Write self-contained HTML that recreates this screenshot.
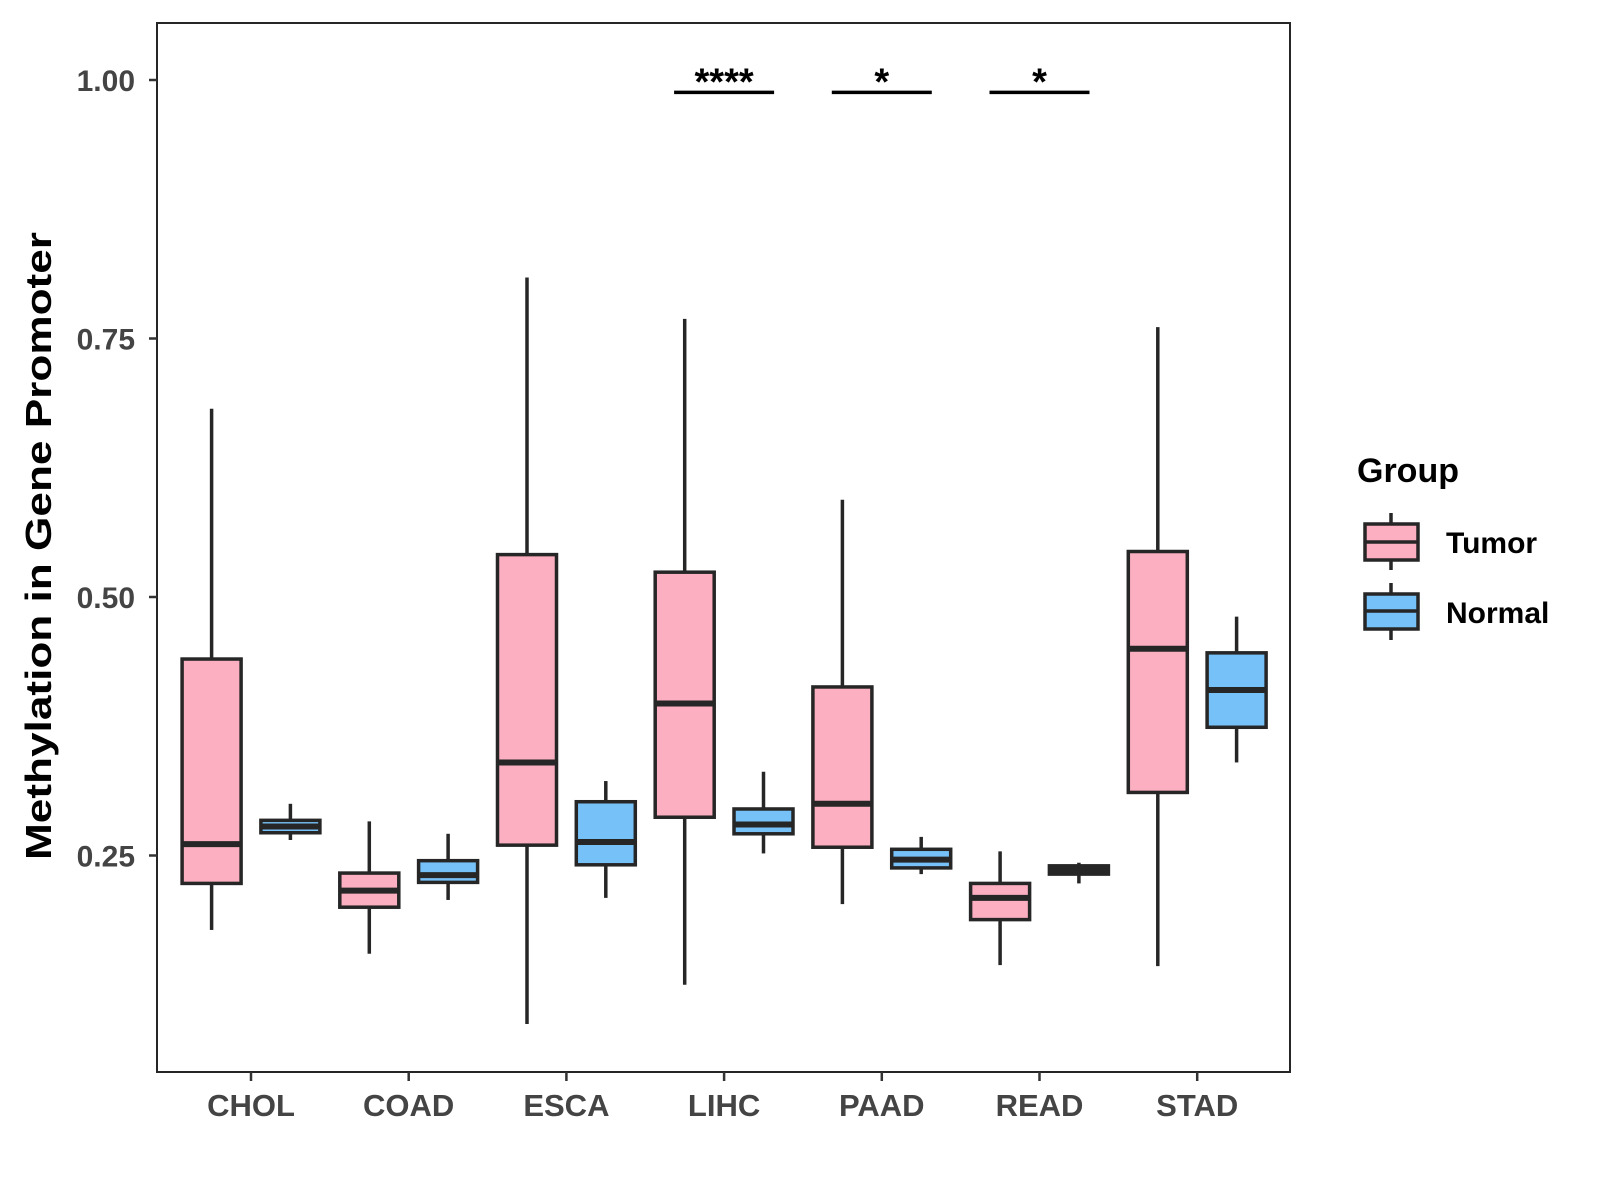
<!DOCTYPE html>
<html><head><meta charset="utf-8"><style>
html,body{margin:0;padding:0;background:#fff;}
svg{display:block;font-family:"Liberation Sans",Arial,sans-serif;}
</style></head><body>
<svg id="chart" width="1600" height="1200" viewBox="0 0 1600 1200" xmlns="http://www.w3.org/2000/svg">
<rect x="0" y="0" width="1600" height="1200" fill="#fff"/>
<g id="plot"></g>
<text x="0" y="0" transform="translate(51,546) rotate(-90)" text-anchor="middle" font-size="36" font-weight="bold" fill="#000" textLength="628" lengthAdjust="spacingAndGlyphs">Methylation in Gene Promoter</text>
<g>
<text x="1357" y="482" font-size="34" font-weight="bold" fill="#000">Group</text>
<g>
<line x1="1391" y1="513" x2="1391" y2="570" stroke="#262626" stroke-width="3.5"/>
<rect x="1365" y="524" width="53" height="36" fill="#FBAFC0" stroke="#262626" stroke-width="3.5"/>
<line x1="1365" y1="542" x2="1418" y2="542" stroke="#262626" stroke-width="3.5"/>
<text x="1446" y="553" font-size="30" font-weight="bold" fill="#000">Tumor</text>
</g>
<g>
<line x1="1391" y1="583" x2="1391" y2="640" stroke="#262626" stroke-width="3.5"/>
<rect x="1365" y="594" width="53" height="35" fill="#76C1F8" stroke="#262626" stroke-width="3.5"/>
<line x1="1365" y1="611" x2="1418" y2="611" stroke="#262626" stroke-width="3.5"/>
<text x="1446" y="623" font-size="30" font-weight="bold" fill="#000">Normal</text>
</g>
</g>
</svg>
<script>
const categories = ["CHOL","COAD","ESCA","LIHC","PAAD","READ","STAD"];
// [lowerWhisker, Q1, median, Q3, upperWhisker]
const tumorStats = [
  [0.178,0.223,0.261,0.440,0.682],
  [0.155,0.200,0.216,0.233,0.283],
  [0.087,0.260,0.340,0.541,0.809],
  [0.125,0.287,0.397,0.524,0.769],
  [0.203,0.258,0.300,0.413,0.594],
  [0.144,0.188,0.209,0.223,0.254],
  [0.143,0.311,0.450,0.544,0.761]
];
const normalStats = [
  [0.265,0.272,0.278,0.284,0.300],
  [0.207,0.224,0.231,0.245,0.271],
  [0.209,0.241,0.263,0.302,0.322],
  [0.252,0.271,0.280,0.295,0.331],
  [0.232,0.238,0.246,0.256,0.268],
  [0.223,0.232,0.236,0.240,0.243],
  [0.340,0.374,0.410,0.446,0.481]
];
const yTicks = [0.25,0.50,0.75,1.00];
const yTickLabels = ["0.25","0.50","0.75","1.00"];
const sigCategories = ["LIHC","PAAD","READ"];
const sigLabels = ["****","*","*"];
const sigLevel = [0.988];

const NS="http://www.w3.org/2000/svg";
const P={l:157,r:1290,t:23,b:1072};
function yScale(v){return 80+(1-v)*1034;}
function xScale(i){return 251+i*157.7;}
const g=document.getElementById('plot');
function mk(tag,attrs,parent){const e=document.createElementNS(NS,tag);for(const k in attrs)e.setAttribute(k,attrs[k]);(parent||g).appendChild(e);return e;}

const panel=mk('rect',{x:P.l,y:P.t,width:P.r-P.l,height:P.b-P.t,fill:'none',stroke:'#262626','stroke-width':2});



yTicks.forEach((v,i)=>{
  const y=yScale(v);
  const t=mk('line',{x1:P.l-8,x2:P.l,y1:y,y2:y,stroke:'#333','stroke-width':2.5});
  
  
  const l=mk('text',{x:P.l-22,y:y+11,'text-anchor':'end','font-size':30,'font-weight':'bold',fill:'#444'});
  l.textContent=yTickLabels[i];
  
  
});
categories.forEach((c,i)=>{
  const x=xScale(i);
  const t=mk('line',{x1:x,x2:x,y1:P.b,y2:P.b+9,stroke:'#333','stroke-width':2.5});
  
  
  const l=mk('text',{x:x,y:1116,'text-anchor':'middle','font-size':31,'font-weight':'bold',fill:'#444'});
  l.textContent=c;
  
  
});

const bw=59, off=39.4;
function box(cx,s,fill,name){
  const grp=mk('g',{});
  
  
  mk('line',{x1:cx,x2:cx,y1:yScale(s[0]),y2:yScale(s[1]),stroke:'#262626','stroke-width':3.5},grp);
  mk('line',{x1:cx,x2:cx,y1:yScale(s[3]),y2:yScale(s[4]),stroke:'#262626','stroke-width':3.5},grp);
  mk('rect',{x:cx-bw/2,y:yScale(s[3]),width:bw,height:yScale(s[1])-yScale(s[3]),fill:fill,stroke:'#262626','stroke-width':3.5},grp);
  mk('line',{x1:cx-bw/2,x2:cx+bw/2,y1:yScale(s[2]),y2:yScale(s[2]),stroke:'#262626','stroke-width':6},grp);
}
categories.forEach((c,i)=>{
  box(xScale(i)-off,tumorStats[i],'#FBAFC0','box-tumor-'+c.toLowerCase());
  box(xScale(i)+off,normalStats[i],'#76C1F8','box-normal-'+c.toLowerCase());
});

sigCategories.forEach((c,k)=>{
  const i=categories.indexOf(c);
  const x=xScale(i), y=yScale(sigLevel[0]);
  const b=mk('line',{x1:x-50,x2:x+50,y1:y,y2:y,stroke:'#000','stroke-width':3.5});
  
  
  const t=mk('text',{x:x,y:y+2,'text-anchor':'middle','font-size':38,'font-weight':'bold',fill:'#000'});
  t.textContent=sigLabels[k];
  
  
});
</script>
</body></html>
